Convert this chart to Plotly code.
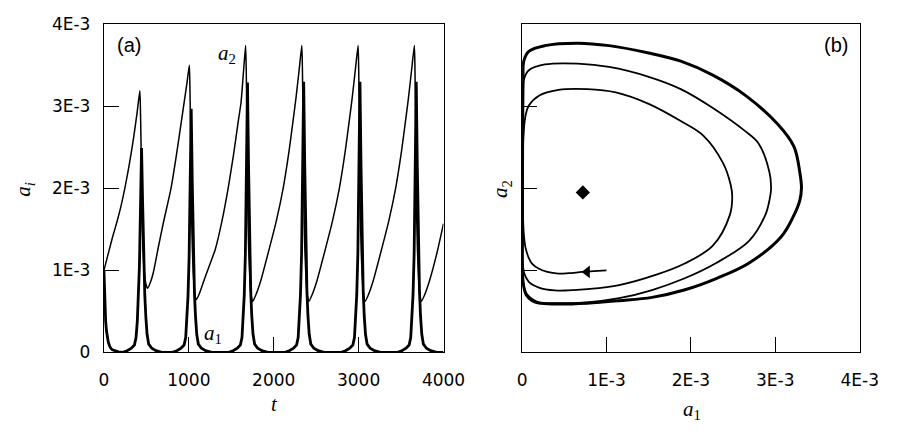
import numpy as np
import plotly.graph_objects as go

# ---------------- panel (a): time series (values in units of 1E-3) ----------------
t_a1 = [0, 5, 10, 15, 20, 30, 40, 50, 65, 80, 100, 130, 170, 220,
        223, 273, 323, 359, 378, 393, 405, 418, 431, 443, 455, 468, 481, 493, 508, 527, 563, 613, 683,
        808, 858, 908, 944, 963, 978, 990, 1003, 1016, 1028, 1040, 1053, 1066, 1078, 1093, 1112, 1148, 1198, 1268,
        1471, 1521, 1571, 1607, 1626, 1641, 1653, 1666, 1679, 1691, 1703, 1716, 1729, 1741, 1756, 1775, 1811, 1861, 1931,
        2133, 2183, 2233, 2269, 2288, 2303, 2315, 2328, 2341, 2353, 2365, 2378, 2391, 2403, 2418, 2437, 2473, 2523, 2593,
        2796, 2846, 2896, 2932, 2951, 2966, 2978, 2991, 3004, 3016, 3028, 3041, 3054, 3066, 3081, 3100, 3136, 3186, 3256,
        3459, 3509, 3559, 3595, 3614, 3629, 3641, 3654, 3667, 3679, 3691, 3704, 3717, 3729, 3744, 3763, 3799, 3849, 3919,
        4000]
a1_vals = [1.0, 0.8, 0.62, 0.48, 0.38, 0.26, 0.18, 0.13, 0.08, 0.05, 0.03, 0.015, 0.005, 0.0,
           0.0, 0.02, 0.05, 0.09, 0.18, 0.38, 0.65, 1.05, 1.8, 2.49, 1.85, 1.15, 0.7, 0.44, 0.22, 0.1, 0.05, 0.02, 0.0,
           0.0, 0.02, 0.05, 0.09, 0.18, 0.4, 0.68, 1.15, 2.0, 2.97, 2.1, 1.25, 0.72, 0.45, 0.22, 0.1, 0.05, 0.02, 0.0,
           0.0, 0.02, 0.05, 0.09, 0.18, 0.4, 0.7, 1.2, 2.2, 3.29, 2.3, 1.3, 0.75, 0.45, 0.22, 0.1, 0.05, 0.02, 0.0,
           0.0, 0.02, 0.05, 0.09, 0.18, 0.4, 0.7, 1.2, 2.2, 3.3, 2.3, 1.3, 0.75, 0.45, 0.22, 0.1, 0.05, 0.02, 0.0,
           0.0, 0.02, 0.05, 0.09, 0.18, 0.4, 0.7, 1.2, 2.2, 3.3, 2.3, 1.3, 0.75, 0.45, 0.22, 0.1, 0.05, 0.02, 0.0,
           0.0, 0.02, 0.05, 0.09, 0.18, 0.4, 0.7, 1.2, 2.2, 3.3, 2.3, 1.3, 0.75, 0.45, 0.22, 0.1, 0.05, 0.02, 0.0,
           0.0]

t_a2 = [0, 50, 100, 150, 200, 250, 300, 350, 390,
        423, 430, 436, 440, 443, 449, 457, 467, 478, 495, 514,
        550, 583, 644, 700, 790, 850, 900, 945, 980,
        1006, 1013, 1019, 1024, 1028, 1034, 1042, 1052, 1063, 1076, 1086,
        1126, 1186, 1250, 1310, 1390, 1463, 1525, 1577, 1615, 1646,
        1669, 1676, 1682, 1687, 1691, 1697, 1705, 1715, 1726, 1739, 1749,
        1789, 1849, 1939, 2030, 2111, 2180, 2225, 2262, 2300,
        2331, 2338, 2344, 2349, 2353, 2359, 2367, 2377, 2388, 2401, 2411,
        2451, 2511, 2601, 2692, 2773, 2842, 2887, 2924, 2962,
        2994, 3001, 3007, 3012, 3016, 3022, 3030, 3040, 3051, 3064, 3074,
        3114, 3174, 3264, 3355, 3436, 3505, 3550, 3587, 3625,
        3657, 3664, 3670, 3675, 3679, 3685, 3693, 3703, 3714, 3727, 3737,
        3777, 3837, 3927, 4000]
a2_vals = [1.0, 1.2, 1.4, 1.58, 1.78, 2.02, 2.3, 2.62, 2.92,
           3.19, 2.95, 2.6, 2.3, 2.0, 1.65, 1.35, 1.1, 0.95, 0.83, 0.78,
           0.86, 0.98, 1.3, 1.58, 2.0, 2.38, 2.73, 3.05, 3.3,
           3.5, 3.22, 2.8, 2.4, 2.0, 1.6, 1.25, 0.98, 0.8, 0.68, 0.64,
           0.72, 0.9, 1.08, 1.25, 1.6, 2.0, 2.4, 2.78, 3.05, 3.45,
           3.74, 3.45, 3.0, 2.5, 2.0, 1.6, 1.25, 0.98, 0.78, 0.66, 0.62,
           0.7, 0.88, 1.23, 1.6, 2.0, 2.45, 2.8, 3.1, 3.45,
           3.74, 3.45, 3.0, 2.5, 2.0, 1.6, 1.25, 0.98, 0.78, 0.66, 0.62,
           0.7, 0.88, 1.23, 1.6, 2.0, 2.45, 2.8, 3.1, 3.45,
           3.74, 3.45, 3.0, 2.5, 2.0, 1.6, 1.25, 0.98, 0.78, 0.66, 0.62,
           0.7, 0.88, 1.23, 1.6, 2.0, 2.45, 2.8, 3.1, 3.45,
           3.74, 3.45, 3.0, 2.5, 2.0, 1.6, 1.25, 0.98, 0.78, 0.66, 0.62,
           0.7, 0.88, 1.23, 1.57]

# ---------------- panel (b): phase portrait (units of 1E-3) ----------------
ph_a1 = [1.0, 0.85, 0.71, 0.55, 0.43, 0.3, 0.2, 0.12, 0.08, 0.04, 0.02, 0.01, 0.005, 0.008, 0.012, 0.02,
         0.04, 0.08, 0.2, 0.43, 0.77, 1.11, 1.5, 1.88, 2.15, 2.38, 2.47, 2.49, 2.46, 2.26, 1.92, 1.6, 1.15,
         0.77, 0.54, 0.39, 0.2, 0.08, 0.03, 0.01,
         0.005, 0.005, 0.008, 0.012, 0.02, 0.08, 0.27, 0.66, 1.03, 1.5, 1.88, 2.26, 2.64, 2.80, 2.93, 2.95,
         2.93, 2.88, 2.69, 2.30, 1.92, 1.54, 1.15, 0.77, 0.39, 0.2, 0.12, 0.05, 0.02, 0.005]
ph_a2 = [1.0, 0.99, 0.98, 0.965, 0.96, 0.98, 1.02, 1.08, 1.15, 1.28, 1.45, 1.7, 2.0, 2.3, 2.55, 2.70,
         2.88, 3.01, 3.13, 3.2, 3.21, 3.17, 3.03, 2.82, 2.64, 2.31, 2.05, 1.9, 1.67, 1.3, 1.08, 0.95, 0.82,
         0.77, 0.755, 0.755, 0.79, 0.86, 0.95, 1.05,
         1.5, 2.0, 2.6, 3.0, 3.32, 3.44, 3.51, 3.52, 3.48, 3.36, 3.21, 2.98, 2.70, 2.55, 2.2, 2.0,
         1.85, 1.67, 1.36, 1.09, 0.90, 0.76, 0.66, 0.61, 0.60, 0.61, 0.65, 0.72, 0.8, 0.95]

lc_a1 = [0.005, 0.005, 0.005, 0.008, 0.012, 0.02, 0.08, 0.27, 0.66, 1.03, 1.5, 1.88, 2.26, 2.65, 3.03, 3.22,
         3.29, 3.31, 3.29, 3.22, 3.07, 2.69, 2.30, 1.92, 1.54, 1.15, 0.77, 0.39, 0.2, 0.12, 0.05, 0.02, 0.005]
lc_a2 = [0.95, 1.5, 2.2, 2.9, 3.3, 3.55, 3.67, 3.74, 3.77, 3.74, 3.65, 3.55, 3.38, 3.13, 2.78, 2.51,
         2.2, 2.0, 1.85, 1.67, 1.41, 1.09, 0.90, 0.76, 0.67, 0.63, 0.60, 0.59, 0.6, 0.63, 0.7, 0.8, 0.95]

arrow_a1 = [0.77]
arrow_a2 = [0.98]
fixed_a1 = [0.72]
fixed_a2 = [1.95]

tick_vals = [0, 1e-3, 2e-3, 3e-3, 4e-3]
tick_text = ["0", "1E-3", "2E-3", "3E-3", "4E-3"]
t_ticks = [0, 1000, 2000, 3000, 4000]

S = 1e-3
black = "black"
fig = go.Figure()
fig.add_trace(go.Scatter(x=t_a2, y=np.array(a2_vals) * S, mode="lines",
                         line=dict(color=black, width=1.5, shape="spline", smoothing=0.5),
                         xaxis="x", yaxis="y"))
fig.add_trace(go.Scatter(x=t_a1, y=np.array(a1_vals) * S, mode="lines",
                         line=dict(color=black, width=2.8), xaxis="x", yaxis="y"))
fig.add_trace(go.Scatter(x=np.array(ph_a1) * S, y=np.array(ph_a2) * S, mode="lines",
                         line=dict(color=black, width=1.8, shape="spline", smoothing=1.0),
                         xaxis="x2", yaxis="y2"))
fig.add_trace(go.Scatter(x=np.array(lc_a1) * S, y=np.array(lc_a2) * S, mode="lines",
                         line=dict(color=black, width=3, shape="spline", smoothing=1.0),
                         xaxis="x2", yaxis="y2"))
fig.add_trace(go.Scatter(x=np.array(arrow_a1) * S, y=np.array(arrow_a2) * S, mode="markers",
                         marker=dict(symbol="triangle-left", size=11, color=black),
                         xaxis="x2", yaxis="y2"))
fig.add_trace(go.Scatter(x=np.array(fixed_a1) * S, y=np.array(fixed_a2) * S, mode="markers",
                         marker=dict(symbol="diamond", size=11, color=black),
                         xaxis="x2", yaxis="y2"))

W, H = 904, 431
def px(x):
    return x / W
def py(y):
    return 1 - y / H

tickfont = dict(family="DejaVu Sans", size=17, color=black)
common = dict(showline=True, mirror=True, linecolor=black, linewidth=1.3,
              ticks="inside", ticklen=15, tickwidth=1.2, tickcolor=black,
              showgrid=False, zeroline=False, tickfont=tickfont, fixedrange=True)

fig.update_layout(
    width=W, height=H, margin=dict(l=0, r=0, t=0, b=0),
    paper_bgcolor="white", plot_bgcolor="white", showlegend=False,
    xaxis=dict(domain=[px(102), px(452)], range=[0, 4000], tickvals=t_ticks,
               anchor="y", ticklabelstandoff=12, **common),
    yaxis=dict(domain=[py(359), py(15)], range=[0, 4e-3], tickvals=tick_vals,
               ticktext=tick_text, anchor="x", ticklabelstandoff=9, **common),
    xaxis2=dict(domain=[px(533), px(881)], range=[0, 4e-3], tickvals=tick_vals,
                ticktext=tick_text, anchor="y2", ticklabelstandoff=12, **common),
    yaxis2=dict(domain=[py(359), py(15)], range=[0, 4e-3], tickvals=[1e-3, 2e-3, 3e-3],
                showticklabels=False, anchor="x2", **common),
)

serif = dict(family="Liberation Serif", size=21, color=black)
sans = dict(family="Liberation Sans", size=20, color=black)
ann = [
    dict(x=px(128), y=py(37), text="(a)", font=sans),
    dict(x=px(857), y=py(37), text="(b)", font=sans),
    dict(x=px(229), y=py(46), text="<i>a</i><sub>2</sub>", font=serif),
    dict(x=px(214), y=py(340), text="<i>a</i><sub>1</sub>", font=serif),
    dict(x=px(278), y=py(413), text="<i>t</i>", font=serif),
    dict(x=px(708), y=py(419), text="<i>a</i><sub>1</sub>", font=serif),
    dict(x=px(20), y=py(188), text="<i>a</i><sub><i>i</i></sub>", font=serif, textangle=-90),
    dict(x=px(512), y=py(188), text="<i>a</i><sub>2</sub>", font=serif, textangle=-90),
]
for a in ann:
    a.update(xref="paper", yref="paper", showarrow=False, xanchor="center", yanchor="middle")
fig.update_layout(annotations=ann)

fig.write_html("out.html")
